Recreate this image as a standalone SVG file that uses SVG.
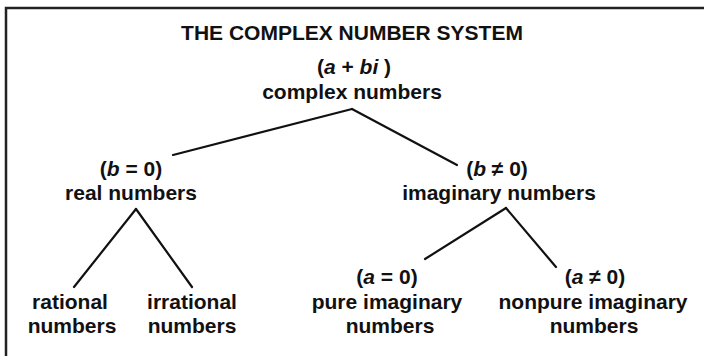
<svg xmlns="http://www.w3.org/2000/svg" width="704" height="356" viewBox="0 0 704 356">
  <style>
    text { font-family: "Liberation Sans", Arial, sans-serif; font-size: 21px; font-weight: bold; fill: #111; text-anchor: middle; }
    .i { font-style: italic; }
    .conn line { stroke: #111; stroke-width: 2.2; stroke-linecap: round; }
    .frame { stroke: #222; stroke-width: 2.5; fill: none; }
  </style>
  <rect x="0" y="0" width="704" height="356" fill="#ffffff"/>
  <path class="frame" d="M6 356 V8 H704"/>

  <g id="title"><text x="352" y="40">THE COMPLEX NUMBER SYSTEM</text></g>

  <g id="complex">
    <text x="354" y="74">(<tspan class="i">a</tspan> + <tspan class="i">bi</tspan> )</text>
    <text x="352" y="99">complex numbers</text>
  </g>

  <g id="real">
    <text x="131" y="176">(<tspan class="i">b</tspan> = 0)</text>
    <text x="131" y="200">real numbers</text>
  </g>

  <g id="imaginary">
    <text x="497" y="176">(<tspan class="i">b</tspan> ≠ 0)</text>
    <text x="499" y="200">imaginary numbers</text>
  </g>

  <g id="rational">
    <text x="70" y="309">rational</text>
    <text x="72" y="333">numbers</text>
  </g>

  <g id="irrational">
    <text x="192" y="309">irrational</text>
    <text x="192" y="333">numbers</text>
  </g>

  <g id="pure">
    <text x="387" y="284">(<tspan class="i">a</tspan> = 0)</text>
    <text x="387" y="309">pure imaginary</text>
    <text x="390" y="333">numbers</text>
  </g>

  <g id="nonpure">
    <text x="595" y="284">(<tspan class="i">a</tspan> ≠ 0)</text>
    <text x="593" y="309">nonpure imaginary</text>
    <text x="594" y="333">numbers</text>
  </g>

  <g id="connectors" class="conn">
    <line x1="352" y1="109" x2="173" y2="155"/>
    <line x1="352" y1="109" x2="457" y2="165"/>
    <line x1="136" y1="209" x2="74" y2="287"/>
    <line x1="136" y1="209" x2="192" y2="287"/>
    <line x1="506" y1="208" x2="425" y2="259"/>
    <line x1="506" y1="208" x2="556" y2="267"/>
  </g>
</svg>
